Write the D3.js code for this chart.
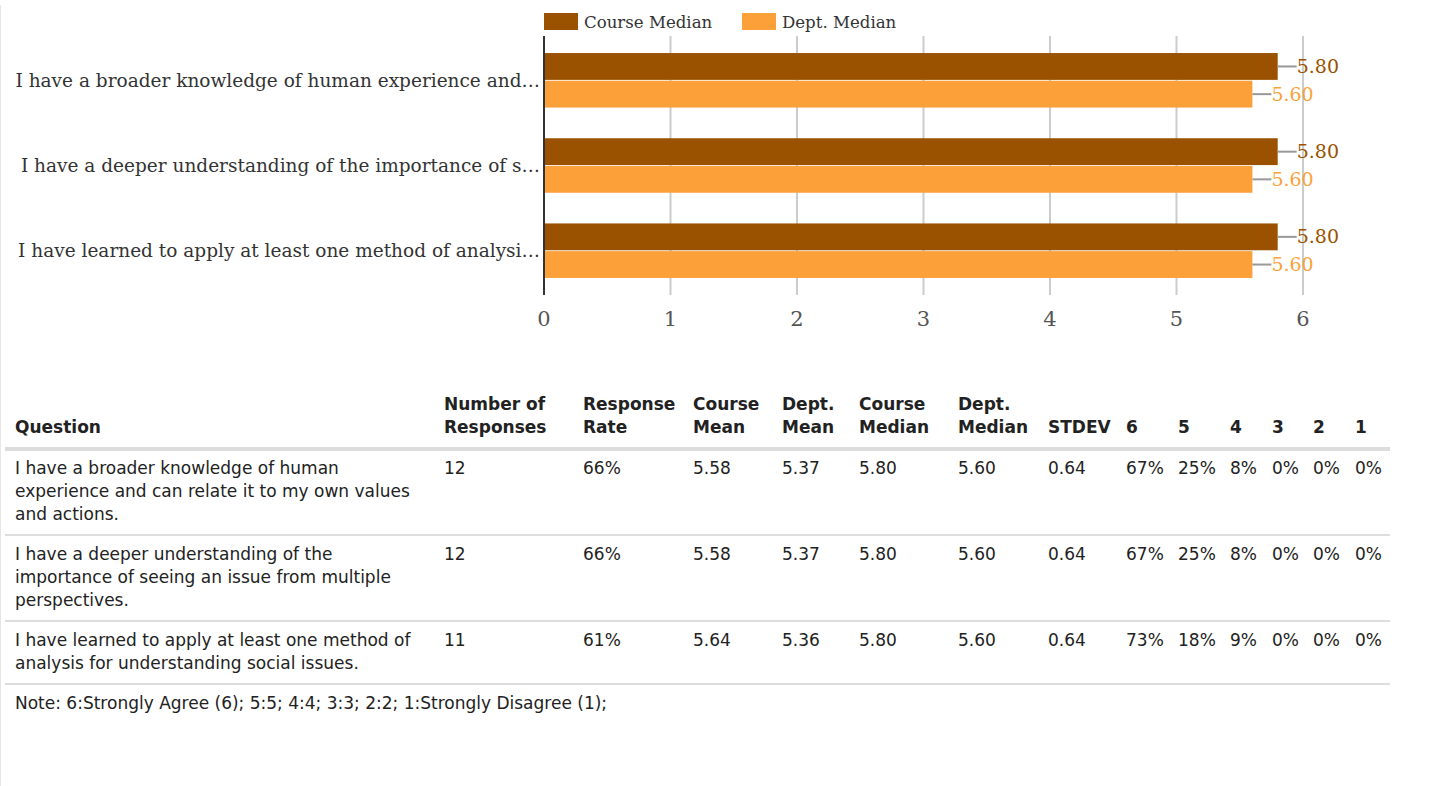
<!DOCTYPE html>
<html>
<head>
<meta charset="utf-8">
<script src="https://cdn.jsdelivr.net/npm/d3@7"></script>
<style>
body{margin:0;background:#fff;}
svg{display:block;}
</style>
</head>
<body>
<svg class="plot"></svg>
<script>
var questions=["I have a broader knowledge of human experience and can relate it to my own values and actions.",
               "I have a deeper understanding of the importance of seeing an issue from multiple perspectives.",
               "I have learned to apply at least one method of analysis for understanding social issues."];
var questionLines=[["I have a broader knowledge of human","experience and can relate it to my own values","and actions."],
                   ["I have a deeper understanding of the","importance of seeing an issue from multiple","perspectives."],
                   ["I have learned to apply at least one method of","analysis for understanding social issues."]];
var seriesNames=["Course Median","Dept. Median"];
var courseMedian=[5.8,5.8,5.8];
var deptMedian=[5.6,5.6,5.6];
var xTicks=[0,1,2,3,4,5,6];
var headers=[["Question"],["Number of","Responses"],["Response","Rate"],["Course","Mean"],["Dept.","Mean"],["Course","Median"],["Dept.","Median"],["STDEV"],["6"],["5"],["4"],["3"],["2"],["1"]];
var responses=["12","12","11"];
var responseRate=["66%","66%","61%"];
var courseMean=["5.58","5.58","5.64"];
var deptMean=["5.37","5.37","5.36"];
var stdev=["0.64","0.64","0.64"];
var pct6=["67%","67%","73%"];
var pct5=["25%","25%","18%"];
var pct4=["8%","8%","9%"];
var pct3=["0%","0%","0%"];
var pct2=["0%","0%","0%"];
var pct1=["0%","0%","0%"];
var note="Note: 6:Strongly Agree (6); 5:5; 4:4; 3:3; 2:2; 1:Strongly Disagree (1);";

var screen={width:1430,height:786};
var svg=d3.select("svg.plot")
          .attr("width",screen.width)
          .attr("height",screen.height);
var colors=d3.scaleOrdinal().domain(seriesNames).range(["#9b5200","#fca13a"]);
var serif="'DejaVu Serif', serif";
var sans="'DejaVu Sans', sans-serif";

// faint left frame
svg.append("line").attr("x1",0.5).attr("x2",0.5).attr("y1",5).attr("y2",786)
   .attr("stroke","#e6e6e6");

// ---- bar chart
var margin={left:544,top:36};
var width=1303-544;
var height=259;
var xscale=d3.scaleLinear().domain([0,6]).range([0,width]);
var yscale=d3.scaleBand().domain(d3.range(questions.length)).range([0,height]).paddingInner(0.36).paddingOuter(0.2);
var inner=d3.scaleBand().domain(seriesNames).range([0,yscale.bandwidth()]).paddingInner(0.03);

var plot=svg.append("g")
            .attr("transform","translate("+margin.left+","+margin.top+")");
plot.selectAll("line.grid")
    .data(xTicks.slice(1))
    .enter()
    .append("line")
    .classed("grid",true)
    .attr("x1",function(d){return xscale(d);})
    .attr("x2",function(d){return xscale(d);})
    .attr("y1",0)
    .attr("y2",height)
    .attr("stroke","#cccccc")
    .attr("stroke-width",2);

var rows=questions.map(function(q,i){
  return {i:i,values:[{name:seriesNames[0],v:courseMedian[i]},{name:seriesNames[1],v:deptMedian[i]}]};
});
var group=plot.selectAll("g.grp")
              .data(rows)
              .enter()
              .append("g")
              .classed("grp",true)
              .attr("transform",function(d){return "translate(0,"+yscale(d.i)+")";});
var bar=group.selectAll("g.bar")
             .data(function(d){return d.values;})
             .enter()
             .append("g")
             .classed("bar",true);
bar.append("rect")
   .attr("x",0)
   .attr("y",function(d){return inner(d.name);})
   .attr("width",function(d){return xscale(d.v);})
   .attr("height",inner.bandwidth())
   .attr("fill",function(d){return colors(d.name);});
bar.append("line")
   .attr("x1",function(d){return xscale(d.v);})
   .attr("x2",function(d){return xscale(d.v)+19;})
   .attr("y1",function(d){return inner(d.name)+inner.bandwidth()/2;})
   .attr("y2",function(d){return inner(d.name)+inner.bandwidth()/2;})
   .attr("stroke","#999")
   .attr("stroke-width",2);
bar.append("text")
   .attr("x",function(d){return xscale(d.v)+19;})
   .attr("y",function(d){return inner(d.name)+inner.bandwidth()/2;})
   .attr("dy","0.35em")
   .attr("font-family",serif)
   .attr("font-size",19)
   .attr("fill",function(d){return colors(d.name);})
   .text(function(d){return d3.format(".2f")(d.v);});

// category labels, truncated
plot.selectAll("text.cat")
    .data(questions)
    .enter()
    .append("text")
    .classed("cat",true)
    .attr("x",-4)
    .attr("y",function(d,i){return yscale(i)+yscale.bandwidth()/2;})
    .attr("dy","0.35em")
    .attr("text-anchor","end")
    .attr("font-family",serif)
    .attr("font-size",18.5)
    .attr("fill","#333")
    .text(function(d){return d;})
    .each(function(d){
      var t=d3.select(this);
      var s=d;
      while(this.getComputedTextLength()>530 && s.length>0){
        s=s.slice(0,-1);
        t.text(s.replace(/\s+$/,"")+"…");
      }
    });

// axis line
plot.append("line").attr("x1",0).attr("x2",0).attr("y1",0).attr("y2",height)
    .attr("stroke","#333").attr("stroke-width",2);
plot.selectAll("text.tick")
    .data(xTicks)
    .enter()
    .append("text")
    .classed("tick",true)
    .attr("x",function(d){return xscale(d);})
    .attr("y",height+31)
    .attr("text-anchor","middle")
    .attr("font-family",serif)
    .attr("font-size",21)
    .attr("fill","#555")
    .text(function(d){return d;});

// legend
var legend=svg.append("g").attr("transform","translate(544,13)");
var legendItem=legend.selectAll("g")
                     .data(seriesNames)
                     .enter()
                     .append("g")
                     .attr("transform",function(d,i){return "translate("+(i*198)+",0)";});
legendItem.append("rect")
          .attr("width",34).attr("height",17)
          .attr("fill",function(d){return colors(d);});
legendItem.append("text")
          .attr("x",40).attr("y",9).attr("dy","0.35em")
          .attr("font-family",serif).attr("font-size",16.6).attr("fill","#333")
          .text(function(d){return d;});

// ---- table
var colX=[15,444,583,693,782,859,958,1048,1126,1178,1230,1272,1313,1355];
var table=svg.append("g").attr("font-family",sans).attr("font-size",17).attr("fill","#222");
var head=table.selectAll("text.head")
              .data(headers)
              .enter()
              .append("text")
              .classed("head",true)
              .attr("font-weight","bold")
              .attr("x",function(d,i){return colX[i];})
              .attr("y",function(d){return 433-(d.length-1)*23;});
head.selectAll("tspan")
    .data(function(d){return d;})
    .enter()
    .append("tspan")
    .attr("x",function(){return d3.select(this.parentNode).attr("x");})
    .attr("dy",function(d,i){return i==0?0:23;})
    .text(function(d){return d;});
table.append("rect").attr("x",5).attr("y",447).attr("width",1385).attr("height",4).attr("fill","#dddddd");

var rowTop=[474,560,646];
var rowLine=[535,621,684];
questions.forEach(function(q,i){
  var cells=[null,responses[i],responseRate[i],courseMean[i],deptMean[i],
             d3.format(".2f")(courseMedian[i]),d3.format(".2f")(deptMedian[i]),
             stdev[i],pct6[i],pct5[i],pct4[i],pct3[i],pct2[i],pct1[i]];
  var qt=table.append("text").attr("x",colX[0]).attr("y",rowTop[i]);
  qt.selectAll("tspan")
    .data(questionLines[i])
    .enter()
    .append("tspan")
    .attr("x",colX[0])
    .attr("dy",function(d,j){return j==0?0:23;})
    .text(function(d){return d;});
  cells.forEach(function(c,j){
    if(c===null) return;
    table.append("text").attr("x",colX[j]).attr("y",rowTop[i]).text(c);
  });
  table.append("rect").attr("x",5).attr("y",rowLine[i]-1).attr("width",1385).attr("height",2).attr("fill","#dddddd");
});
table.append("text").attr("x",15).attr("y",709).text(note);
</script>
</body>
</html>
